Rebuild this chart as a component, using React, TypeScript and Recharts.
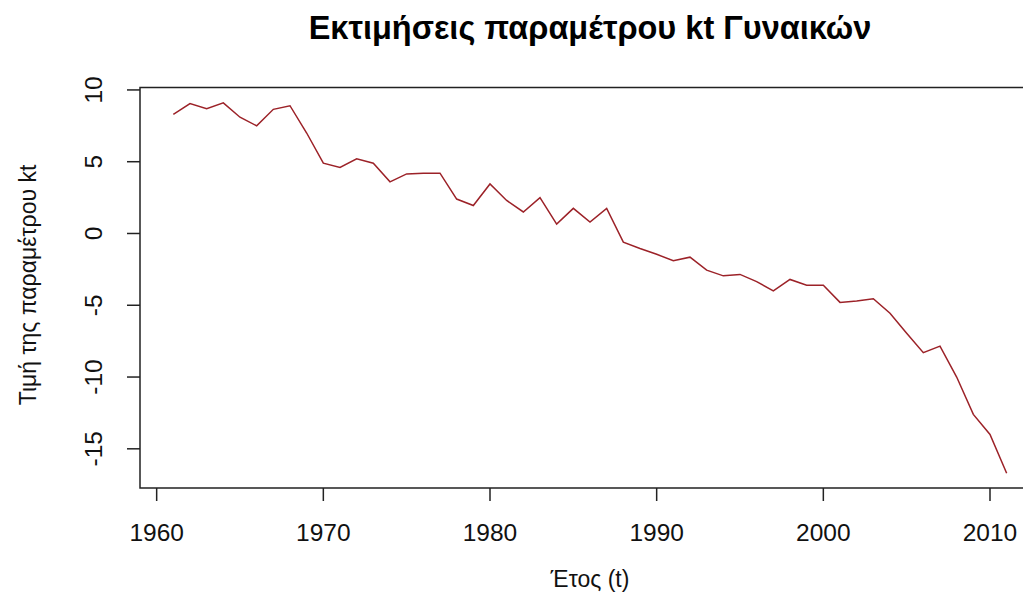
import { LineChart, Line, XAxis, YAxis, ReferenceArea } from 'recharts';

const years = [
  1961, 1962, 1963, 1964, 1965, 1966, 1967, 1968, 1969, 1970,
  1971, 1972, 1973, 1974, 1975, 1976, 1977, 1978, 1979, 1980,
  1981, 1982, 1983, 1984, 1985, 1986, 1987, 1988, 1989, 1990,
  1991, 1992, 1993, 1994, 1995, 1996, 1997, 1998, 1999, 2000,
  2001, 2002, 2003, 2004, 2005, 2006, 2007, 2008, 2009, 2010, 2011,
];

const ktValues = [
  8.3, 9.05, 8.7, 9.1, 8.1, 7.5, 8.65, 8.9, 7.0, 4.9,
  4.6, 5.2, 4.9, 3.6, 4.15, 4.2, 4.2, 2.4, 1.95, 3.45,
  2.3, 1.5, 2.5, 0.65, 1.75, 0.8, 1.75, -0.6, -1.05, -1.45,
  -1.9, -1.65, -2.55, -2.95, -2.85, -3.35, -4.0, -3.2, -3.6, -3.6,
  -4.8, -4.7, -4.55, -5.55, -6.95, -8.3, -7.85, -10.0, -12.6, -14.0, -16.7,
];

const xTicks = [1960, 1970, 1980, 1990, 2000, 2010];
const yTicks = [-15, -10, -5, 0, 5, 10];

const title = 'Εκτιμήσεις παραμέτρου kt Γυναικών';
const xTitle = 'Έτος (t)';
const yTitle = 'Τιμή της παραμέτρου kt';

const data = years.map((year, i) => ({ year, kt: ktValues[i] }));

// R-style axis ranges (4% padding)
const xDomain = [1959, 2013];
const yDomain = [-17.73, 10.17];

const FONT = '"Liberation Sans", Arial, sans-serif';

const XTick = ({ x, payload }: any) => (
  <text x={x} y={533} textAnchor="middle" fontSize={24.5} fontFamily={FONT} fill="#111">
    {payload.value}
  </text>
);

const YTick = ({ y, payload }: any) => (
  <text
    x={94.5}
    y={y}
    transform={`rotate(-90, 94.5, ${y})`}
    textAnchor="middle"
    fontSize={24.5}
    fontFamily={FONT}
    fill="#111"
  >
    {payload.value}
  </text>
);

export default function App() {
  return (
    <div style={{ position: 'relative', width: 1023, height: 596, overflow: 'hidden', background: '#fff' }}>
      <LineChart
        width={1032}
        height={596}
        data={data}
        margin={{ top: 79.5, right: 0, left: 72, bottom: 86 }}
      >
        <XAxis
          dataKey="year"
          type="number"
          domain={xDomain}
          ticks={xTicks}
          allowDataOverflow
          height={30}
          axisLine={false}
          tickSize={13}
          tickLine={{ stroke: '#222', strokeWidth: 1.5 }}
          tick={<XTick />}
        />
        <YAxis
          type="number"
          domain={yDomain}
          ticks={yTicks}
          allowDataOverflow
          width={60}
          axisLine={false}
          tickSize={13}
          tickLine={{ stroke: '#222', strokeWidth: 1.5 }}
          tick={<YTick />}
        />
        <ReferenceArea
          x1={xDomain[0]}
          x2={xDomain[1]}
          y1={yDomain[0]}
          y2={yDomain[1]}
          fill="none"
          fillOpacity={0}
          stroke="#222"
          strokeWidth={1.5}
        />
        <Line
          type="linear"
          dataKey="kt"
          stroke="#9c2228"
          strokeWidth={1.5}
          dot={false}
          isAnimationActive={false}
        />
      </LineChart>
      <svg
        width={1023}
        height={596}
        style={{ position: 'absolute', left: 0, top: 0, pointerEvents: 'none' }}
      >
        <text x={582} y={31} textAnchor="middle" fontSize={32.5} fontWeight="bold" fontFamily={FONT} fill="#000">
          {title}
        </text>
        <text x={582} y={579} textAnchor="middle" fontSize={23} fontFamily={FONT} fill="#111">
          {xTitle}
        </text>
        <text
          x={28}
          y={277}
          transform="rotate(-90, 28, 277)"
          textAnchor="middle"
          fontSize={23}
          fontFamily={FONT}
          fill="#111"
        >
          {yTitle}
        </text>
      </svg>
    </div>
  );
}
